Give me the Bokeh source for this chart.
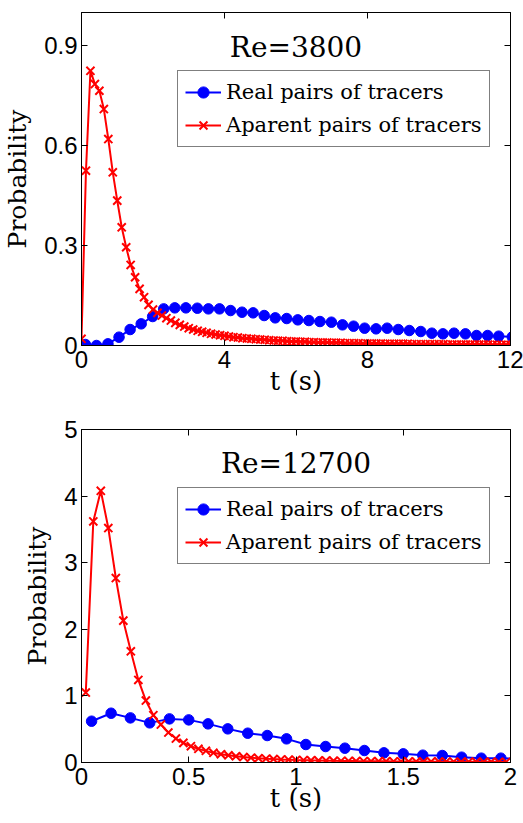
from bokeh.plotting import figure
from bokeh.models import Range1d, FixedTicker, LinearAxis, Label, Legend, LegendItem
from bokeh.layouts import column
from bokeh.embed import file_html
from bokeh.resources import INLINE

# ---------------- data: Re = 3800 ----------------
t_real_re3800 = [0.11, 0.42, 0.74, 1.05, 1.36, 1.67, 1.99, 2.30, 2.61, 2.92,
                 3.24, 3.55, 3.86, 4.17, 4.49, 4.80, 5.11, 5.42, 5.74, 6.05,
                 6.36, 6.67, 6.99, 7.30, 7.61, 7.92, 8.24, 8.55, 8.86, 9.17,
                 9.49, 9.80, 10.11, 10.42, 10.74, 11.05, 11.36, 11.67, 12.05]
p_real_re3800 = [0.003, 0.000, 0.005, 0.025, 0.048, 0.065, 0.087, 0.110, 0.113, 0.113,
                 0.112, 0.110, 0.110, 0.105, 0.100, 0.098, 0.090, 0.083, 0.081, 0.077,
                 0.075, 0.072, 0.070, 0.062, 0.058, 0.052, 0.050, 0.052, 0.048, 0.045,
                 0.042, 0.037, 0.035, 0.037, 0.035, 0.030, 0.030, 0.028, 0.026]

t_app_re3800 = [0.000, 0.125, 0.250, 0.375, 0.500, 0.625, 0.750, 0.875, 1.000, 1.125,
                1.250, 1.375, 1.500, 1.625, 1.750, 1.875, 2.000, 2.125, 2.250, 2.375,
                2.500, 2.625, 2.750, 2.875, 3.000, 3.125, 3.250, 3.375, 3.500, 3.625,
                3.750, 3.875, 4.000, 4.125, 4.250, 4.375, 4.500, 4.625, 4.750, 4.875,
                5.000, 5.125, 5.250, 5.375, 5.500, 5.625, 5.750, 5.875, 6.000, 6.125,
                6.250, 6.375, 6.500, 6.625, 6.750, 6.875, 7.000, 7.125, 7.250, 7.375,
                7.500, 7.625, 7.750, 7.875, 8.000, 8.125, 8.250, 8.375, 8.500, 8.625,
                8.750, 8.875, 9.000, 9.125, 9.250, 9.375, 9.500, 9.625, 9.750, 9.875,
                10.000, 10.125, 10.250, 10.375, 10.500, 10.625, 10.750, 10.875, 11.000, 11.125,
                11.250, 11.375, 11.500, 11.625, 11.750, 11.875, 12.000]
p_app_re3800 = [0.020, 0.525, 0.825, 0.785, 0.765, 0.710, 0.620, 0.520, 0.435, 0.355,
                0.295, 0.242, 0.205, 0.170, 0.145, 0.122, 0.108, 0.098, 0.090, 0.082,
                0.075, 0.068, 0.062, 0.057, 0.052, 0.048, 0.044, 0.041, 0.038, 0.035,
                0.033, 0.031, 0.029, 0.027, 0.025, 0.024, 0.022, 0.021, 0.020, 0.019,
                0.018, 0.017, 0.016, 0.015, 0.014, 0.014, 0.013, 0.012, 0.012, 0.011,
                0.011, 0.010, 0.010, 0.009, 0.009, 0.009, 0.008, 0.008, 0.008, 0.007,
                0.007, 0.007, 0.007, 0.006, 0.006, 0.006, 0.006, 0.006, 0.005, 0.005,
                0.005, 0.005, 0.005, 0.005, 0.004, 0.004, 0.004, 0.004, 0.004, 0.004,
                0.004, 0.004, 0.003, 0.003, 0.003, 0.003, 0.003, 0.003, 0.003, 0.003,
                0.003, 0.003, 0.002, 0.002, 0.002, 0.002, 0.002]

# ---------------- data: Re = 12700 ----------------
t_real_re12700 = [0.047, 0.138, 0.228, 0.318, 0.410, 0.500, 0.590, 0.682, 0.775, 0.866,
                  0.956, 1.046, 1.138, 1.228, 1.319, 1.410, 1.500, 1.591, 1.682, 1.772,
                  1.864, 1.955, 2.046]
p_real_re12700 = [0.62, 0.74, 0.67, 0.595, 0.655, 0.64, 0.58, 0.505, 0.44, 0.405,
                  0.355, 0.27, 0.24, 0.215, 0.18, 0.145, 0.13, 0.11, 0.105, 0.08,
                  0.065, 0.065, 0.055]

t_app_re12700 = [0.020, 0.055, 0.090, 0.125, 0.160, 0.195, 0.230, 0.265, 0.300, 0.335,
                 0.370, 0.405, 0.440, 0.475, 0.510, 0.545, 0.580, 0.615, 0.650, 0.685,
                 0.720, 0.755, 0.790, 0.825, 0.860, 0.895, 0.930, 0.965, 1.000, 1.035,
                 1.070, 1.105, 1.140, 1.175, 1.210, 1.245, 1.280, 1.315, 1.350, 1.385,
                 1.420, 1.455, 1.490, 1.525, 1.560, 1.595, 1.630, 1.665, 1.700, 1.735,
                 1.770, 1.805, 1.840, 1.875, 1.910, 1.945, 1.980]
p_app_re12700 = [1.05, 3.62, 4.08, 3.52, 2.77, 2.13, 1.67, 1.24, 0.93, 0.71,
                 0.57, 0.45, 0.36, 0.295, 0.245, 0.205, 0.175, 0.145, 0.125, 0.108,
                 0.094, 0.082, 0.072, 0.064, 0.057, 0.051, 0.046, 0.042, 0.038, 0.035,
                 0.032, 0.030, 0.028, 0.026, 0.024, 0.023, 0.021, 0.020, 0.019, 0.018,
                 0.017, 0.016, 0.016, 0.015, 0.014, 0.014, 0.013, 0.013, 0.012, 0.012,
                 0.011, 0.011, 0.010, 0.010, 0.010, 0.009, 0.009]

# ---------------- axes / labels ----------------
x_ticks_re3800 = [0, 4, 8, 12]
x_labels_re3800 = ["0", "4", "8", "12"]
y_ticks_re3800 = [0, 0.3, 0.6, 0.9]
y_labels_re3800 = ["0", "0.3", "0.6", "0.9"]

x_ticks_re12700 = [0, 0.5, 1, 1.5, 2]
x_labels_re12700 = ["0", "0.5", "1", "1.5", "2"]
y_ticks_re12700 = [0, 1, 2, 3, 4, 5]
y_labels_re12700 = ["0", "1", "2", "3", "4", "5"]

titles = ["Re=3800", "Re=12700"]
legend_labels = ["Real pairs of tracers", "Aparent pairs of tracers"]
y_label = "Probability"
x_label = "t (s)"

BLUE = "#0000FF"
RED = "#FF0000"
SERIF = "DejaVu Serif"
SANS = "Liberation Sans"


def style_axis(ax, ticks, labels, show_labels, standoff):
    ax.ticker = FixedTicker(ticks=ticks)
    if show_labels:
        ax.major_label_overrides = dict(zip(ticks, labels))
    else:
        ax.major_label_overrides = {t: "" for t in ticks}
    ax.major_label_text_font = SANS
    ax.major_label_text_font_size = "24px"
    ax.major_label_text_color = "black"
    ax.major_label_standoff = standoff
    ax.major_tick_in = 6
    ax.major_tick_out = 0
    ax.minor_tick_in = 0
    ax.minor_tick_out = 0
    ax.major_tick_line_color = "black"
    ax.axis_line_color = "black"
    ax.axis_line_width = 1


def make_panel(title, t_real, p_real, t_app, p_app, xr, yr,
               xticks, xlabels, yticks, ylabels,
               height, border_top, border_bottom, title_y):
    p = figure(width=523, height=height,
               x_range=Range1d(*xr), y_range=Range1d(*yr),
               output_backend="svg", toolbar_location=None,
               min_border_left=81, min_border_right=13,
               min_border_top=border_top, min_border_bottom=border_bottom)
    p.grid.visible = False
    p.outline_line_color = "black"
    p.outline_line_width = 1
    p.background_fill_color = "white"
    p.border_fill_color = "white"

    style_axis(p.xaxis[0], xticks, xlabels, True, 5)
    p.xaxis[0].axis_label = x_label
    p.xaxis[0].axis_label_text_font = SERIF
    p.xaxis[0].axis_label_text_font_style = "normal"
    p.xaxis[0].axis_label_text_font_size = "26px"
    p.xaxis[0].axis_label_text_color = "black"
    p.xaxis[0].axis_label_standoff = -5

    style_axis(p.yaxis[0], yticks, ylabels, True, 4)
    p.yaxis[0].axis_label = y_label
    p.yaxis[0].axis_label_text_font = SERIF
    p.yaxis[0].axis_label_text_font_style = "normal"
    p.yaxis[0].axis_label_text_font_size = "25px"
    p.yaxis[0].axis_label_text_color = "black"
    p.yaxis[0].axis_label_standoff = 9

    ax_top = LinearAxis()
    style_axis(ax_top, xticks, xlabels, False, 0)
    p.add_layout(ax_top, "above")
    ax_right = LinearAxis()
    style_axis(ax_right, yticks, ylabels, False, 0)
    p.add_layout(ax_right, "right")

    rl = p.line(t_real, p_real, line_color=BLUE, line_width=2)
    rs = p.scatter(t_real, p_real, marker="circle", size=10.5,
                   fill_color=BLUE, line_color=BLUE)
    al = p.line(t_app, p_app, line_color=RED, line_width=2)
    as_ = p.scatter(t_app, p_app, marker="x", size=11.5,
                    line_color=RED, line_width=2)

    legend = Legend(items=[LegendItem(label=legend_labels[0], renderers=[rl, rs]),
                           LegendItem(label=legend_labels[1], renderers=[al, as_])],
                    location=(96, 198))
    legend.label_text_font = SERIF
    legend.label_text_font_size = "21px"
    legend.label_text_color = "black"
    legend.glyph_width = 36
    legend.glyph_height = 28
    legend.label_height = 28
    legend.label_standoff = 5
    legend.padding = 7
    legend.spacing = 5
    legend.margin = 0
    legend.border_line_color = "black"
    legend.border_line_width = 1
    legend.background_fill_color = "white"
    legend.background_fill_alpha = 1.0
    p.add_layout(legend)

    p.add_layout(Label(x=(xr[0] + xr[1]) / 2, y=title_y, text=title,
                       text_align="center", text_baseline="alphabetic",
                       text_font=SERIF, text_font_size="28px", text_color="black"))
    return p


p1 = make_panel(titles[0], t_real_re3800, p_real_re3800, t_app_re3800, p_app_re3800,
                (0, 12), (0, 1), x_ticks_re3800, x_labels_re3800,
                y_ticks_re3800, y_labels_re3800,
                height=411, border_top=12, border_bottom=66, title_y=0.894)
p2 = make_panel(titles[1], t_real_re12700, p_real_re12700, t_app_re12700, p_app_re12700,
                (0, 2), (0, 5), x_ticks_re12700, x_labels_re12700,
                y_ticks_re12700, y_labels_re12700,
                height=412, border_top=18, border_bottom=61, title_y=4.485)

layout = column(p1, p2, spacing=0)
open("out.html", "w").write(file_html(layout, INLINE))
